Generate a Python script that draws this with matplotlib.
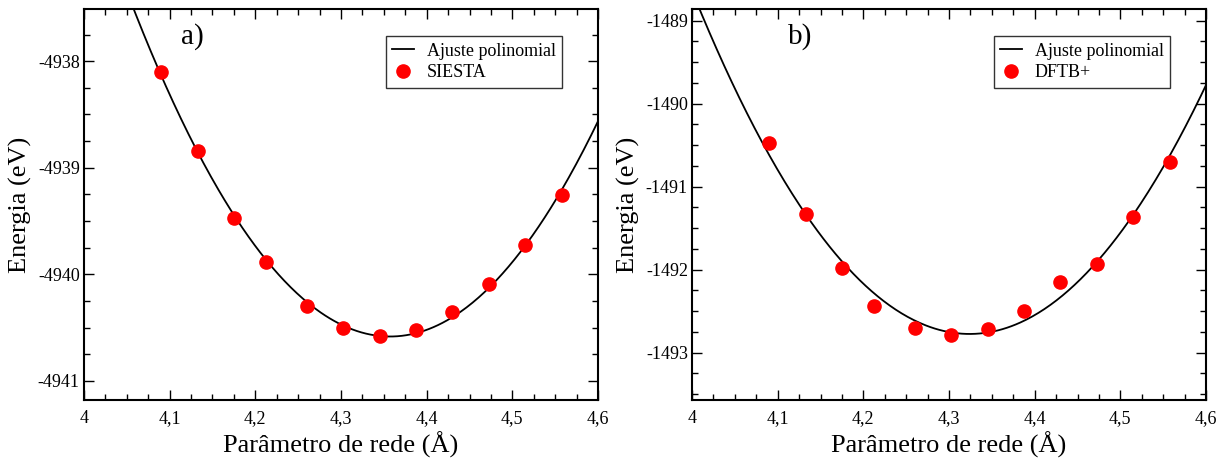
import matplotlib
matplotlib.use("Agg")
import matplotlib.pyplot as plt
import numpy as np
from matplotlib.ticker import MultipleLocator, FuncFormatter

plt.rcParams["font.family"] = ["Liberation Serif", "DejaVu Serif"]
plt.rcParams["axes.unicode_minus"] = False

# parametro de rede (Angstrom) - mesmos pontos nos dois paineis
rede = [4.090, 4.133, 4.175, 4.212, 4.260, 4.302, 4.345, 4.388, 4.430, 4.473, 4.515, 4.558]

energia_siesta = [-4938.103, -4938.841, -4939.467, -4939.880, -4940.296, -4940.505,
                  -4940.577, -4940.527, -4940.355, -4940.092, -4939.723, -4939.254]
energia_dftb = [-1490.477, -1491.333, -1491.983, -1492.434, -1492.699, -1492.783,
                -1492.714, -1492.494, -1492.148, -1491.931, -1491.365, -1490.706]

paineis = ["a)", "b)"]
rotulos = ["SIESTA", "DFTB+"]
ylims = [(-4941.18, -4937.51), (-1493.57, -1488.86)]


def virgula(v, pos):
    txt = f"{v:.1f}".replace(".", ",")
    return txt[:-2] if txt.endswith(",0") else txt


fig = plt.figure(figsize=(12.29, 4.62), dpi=100)
posicoes = [[0.0683, 0.1342, 0.4183, 0.8463], [0.5631, 0.1342, 0.4182, 0.8463]]

for i, energia in enumerate([energia_siesta, energia_dftb]):
    ax = fig.add_axes(posicoes[i])
    x = np.array(rede)
    y = np.array(energia)
    coef = np.polyfit(x, y, 2)
    xs = np.linspace(3.95, 4.65, 400)
    ax.plot(xs, np.polyval(coef, xs), "-", color="black", lw=1.3, label="Ajuste polinomial")
    ax.plot(x, y, "o", color="red", ms=9.5, mec="red", label=rotulos[i], linestyle="none")

    ax.set_xlim(4, 4.6)
    ax.set_ylim(*ylims[i])
    ax.xaxis.set_major_locator(MultipleLocator(0.1))
    ax.xaxis.set_minor_locator(MultipleLocator(0.025))
    ax.yaxis.set_major_locator(MultipleLocator(1))
    ax.yaxis.set_minor_locator(MultipleLocator(0.25))
    ax.xaxis.set_major_formatter(FuncFormatter(virgula))
    ax.yaxis.set_major_formatter(FuncFormatter(lambda v, p: f"{v:.0f}"))
    ax.tick_params(which="both", direction="in", top=True, right=True, labelsize=13, width=1.0)
    ax.tick_params(which="major", length=7)
    ax.tick_params(axis="y", which="major", pad=3)
    ax.tick_params(axis="x", which="major", pad=7)
    ax.tick_params(which="minor", length=4)
    for s in ax.spines.values():
        s.set_linewidth(1.5)

    ax.set_xlabel("Parâmetro de rede (Å)", fontsize=19)
    ax.xaxis.set_label_coords(0.5, -0.082)
    ax.set_ylabel("Energia (eV)", fontsize=19)
    ax.yaxis.set_label_coords(-0.102, 0.5)
    ax.text(0.21, 0.93, paineis[i], transform=ax.transAxes, fontsize=21, ha="center", va="center")

    leg = ax.legend(loc="upper right", bbox_to_anchor=(0.93, 0.93), fontsize=13,
                    frameon=True, fancybox=False, edgecolor="black", handlelength=1.2,
                    borderpad=0.35, labelspacing=0.25, handletextpad=0.7, borderaxespad=0)
    leg.get_frame().set_linewidth(1.0)

fig.savefig("out.png", dpi=100)
